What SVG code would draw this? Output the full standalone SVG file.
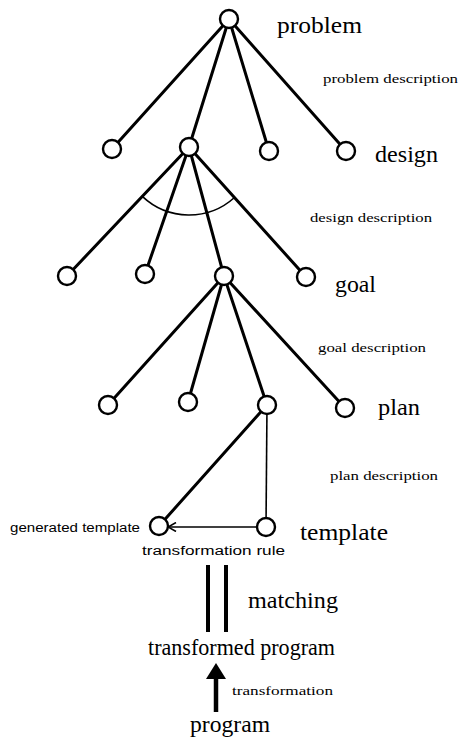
<svg xmlns="http://www.w3.org/2000/svg" width="460" height="737" viewBox="0 0 460 737">
  <style>
    .edge { stroke: #000; stroke-width: 3; fill: none; stroke-linecap: round; }
    .thin { stroke: #000; stroke-width: 1.6; fill: none; }
    .node circle { fill: #fff; stroke: #000; stroke-width: 2.4; }
    .lvl { font-family: "Liberation Serif", "DejaVu Serif", serif; font-size: 23px; fill: #000; }
    .desc { font-family: "Liberation Serif", "DejaVu Serif", serif; font-size: 13px; fill: #000; }
    .small { font-family: "Liberation Sans", "DejaVu Sans", sans-serif; font-size: 12px; fill: #000; }
  </style>
  <defs>
    <!-- open chevron head; arms trail behind the tip -->
    <marker id="chevron" viewBox="0 0 10 10" refX="9" refY="5" markerWidth="10" markerHeight="10" markerUnits="userSpaceOnUse" orient="auto">
      <path d="M1,0.5 L9,5 L1,9.5" fill="none" stroke="#000" stroke-width="1.6"/>
    </marker>
  </defs>

  <!-- connectors -->
  <g id="connectors">
    <!-- problem -> design level -->
    <line class="edge" x1="229" y1="19" x2="112" y2="149"/>
    <line class="edge" x1="229" y1="19" x2="189" y2="147"/>
    <line class="edge" x1="229" y1="19" x2="269" y2="151"/>
    <line class="edge" x1="229" y1="19" x2="346" y2="151"/>
    <!-- design -> goal level -->
    <line class="edge" x1="189" y1="147" x2="67" y2="276"/>
    <line class="edge" x1="189" y1="147" x2="145" y2="274"/>
    <line class="edge" x1="189" y1="147" x2="224" y2="276"/>
    <line class="edge" x1="189" y1="147" x2="306" y2="277"/>
    <!-- AND arc across the design decomposition -->
    <path class="thin" d="M142.3,196.4 A68,68 0 0 0 234.5,197.5"/>
    <!-- goal -> plan level -->
    <line class="edge" x1="224" y1="276" x2="108" y2="405"/>
    <line class="edge" x1="224" y1="276" x2="188" y2="402"/>
    <line class="edge" x1="224" y1="276" x2="267" y2="405"/>
    <line class="edge" x1="224" y1="276" x2="345" y2="408"/>
    <!-- plan -> templates -->
    <line class="edge" x1="267" y1="405" x2="159" y2="526"/>
    <line class="thin" x1="267" y1="405" x2="266" y2="527"/>
    <!-- transformation rule -->
    <line class="thin" x1="257" y1="527" x2="168" y2="527" marker-end="url(#chevron)"/>
    <!-- matching -->
    <line x1="208" y1="565" x2="208" y2="632" stroke="#000" stroke-width="4"/>
    <line x1="226" y1="565" x2="226" y2="632" stroke="#000" stroke-width="4"/>
    <!-- transformation -->
    <line x1="216" y1="712" x2="216" y2="676" stroke="#000" stroke-width="4.5"/>
    <path d="M216,663 L206,679 L226,679 Z" fill="#000"/>
  </g>

  <!-- nodes -->
  <g id="n-problem" class="node"><circle cx="229" cy="19" r="9"/></g>
  <g id="n-d1" class="node"><circle cx="112" cy="149" r="9"/></g>
  <g id="n-d2" class="node"><circle cx="189" cy="147" r="9"/></g>
  <g id="n-d3" class="node"><circle cx="269" cy="151" r="9"/></g>
  <g id="n-d4" class="node"><circle cx="346" cy="151" r="9"/></g>
  <g id="n-g1" class="node"><circle cx="67" cy="276" r="9"/></g>
  <g id="n-g2" class="node"><circle cx="145" cy="274" r="9"/></g>
  <g id="n-g3" class="node"><circle cx="224" cy="276" r="9"/></g>
  <g id="n-g4" class="node"><circle cx="306" cy="277" r="9"/></g>
  <g id="n-p1" class="node"><circle cx="108" cy="405" r="9"/></g>
  <g id="n-p2" class="node"><circle cx="188" cy="402" r="9"/></g>
  <g id="n-p3" class="node"><circle cx="267" cy="405" r="9"/></g>
  <g id="n-p4" class="node"><circle cx="345" cy="408" r="9"/></g>
  <g id="n-generated" class="node"><circle cx="159" cy="526" r="9"/></g>
  <g id="n-template" class="node"><circle cx="266" cy="527" r="9"/></g>

  <!-- labels -->
  <g id="labels">
    <text class="lvl" x="277" y="33" textLength="85" lengthAdjust="spacingAndGlyphs">problem</text>
    <text class="desc" x="323" y="83" textLength="135" lengthAdjust="spacingAndGlyphs">problem description</text>
    <text class="lvl" x="375" y="162" textLength="63" lengthAdjust="spacingAndGlyphs">design</text>
    <text class="desc" x="310" y="222" textLength="122" lengthAdjust="spacingAndGlyphs">design description</text>
    <text class="lvl" x="335" y="292" textLength="41" lengthAdjust="spacingAndGlyphs">goal</text>
    <text class="desc" x="318" y="352" textLength="108" lengthAdjust="spacingAndGlyphs">goal description</text>
    <text class="lvl" x="378" y="415" textLength="42" lengthAdjust="spacingAndGlyphs">plan</text>
    <text class="desc" x="330" y="480" textLength="108" lengthAdjust="spacingAndGlyphs">plan description</text>
    <text class="lvl" x="300" y="540" textLength="88" lengthAdjust="spacingAndGlyphs">template</text>
    <text class="small" x="10" y="532" textLength="130" lengthAdjust="spacingAndGlyphs">generated template</text>
    <text class="small" x="142" y="555" font-size="11" textLength="143" lengthAdjust="spacingAndGlyphs">transformation rule</text>
    <text class="lvl" x="248" y="608" textLength="90" lengthAdjust="spacingAndGlyphs">matching</text>
    <text class="lvl" x="148" y="655" textLength="187" lengthAdjust="spacingAndGlyphs">transformed program</text>
    <text class="desc" x="232" y="695" textLength="101" lengthAdjust="spacingAndGlyphs">transformation</text>
    <text class="lvl" x="190" y="732" textLength="80" lengthAdjust="spacingAndGlyphs">program</text>
  </g>
</svg>
